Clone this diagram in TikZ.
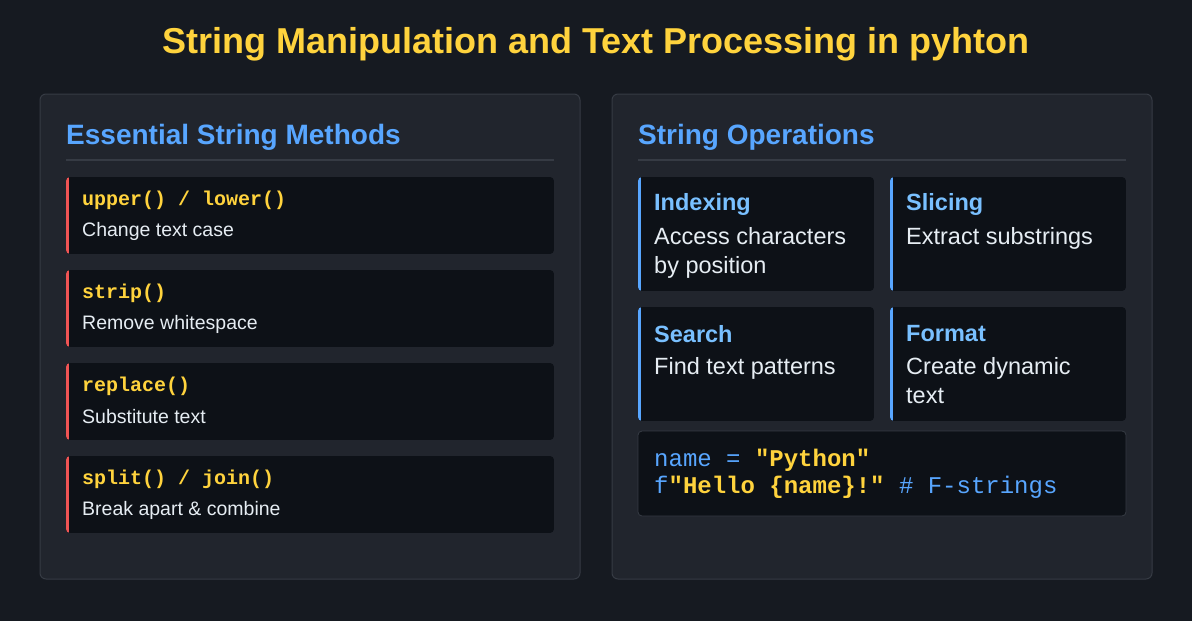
\documentclass[tikz,border=0pt]{standalone}
\usepackage{fontspec}
\setmainfont{Liberation Sans}
\setmonofont{Liberation Mono}
\definecolor{bgdark}{HTML}{161A21}
\definecolor{panelbg}{HTML}{21252D}
\definecolor{panelline}{HTML}{363B44}
\definecolor{cardbg}{HTML}{0D1117}
\definecolor{accred}{HTML}{F05454}
\definecolor{accblue}{HTML}{58A6FF}
\definecolor{titleblue}{HTML}{58A6FF}
\definecolor{cardblue}{HTML}{79C0FF}
\definecolor{codeyel}{HTML}{FFD33D}
\definecolor{txtlight}{HTML}{E6EDF3}
\tikzset{
  panel/.style={fill=panelbg, draw=panelline, line width=1pt, rounded corners=6pt},
  card/.style={fill=cardbg, rounded corners=4pt},
  heading/.style={anchor=west, text=titleblue, font=\fontsize{28}{30}\selectfont\bfseries, inner sep=0pt},
  methname/.style={anchor=west, text=codeyel, font=\fontsize{20}{22}\selectfont\ttfamily\bfseries, inner sep=0pt},
  methtext/.style={anchor=west, text=txtlight, font=\fontsize{19.5}{22}\selectfont, inner sep=0pt},
  opname/.style={anchor=west, text=cardblue, font=\fontsize{23.5}{28}\selectfont\bfseries, inner sep=0pt},
  optext/.style={anchor=north west, text=txtlight, font=\fontsize{23.5}{29}\selectfont, inner sep=0pt, align=left},
}
\begin{document}
\begin{tikzpicture}[x=1pt, y=-1pt]
		\fill[bgdark] (0,0) rectangle (1192,621);
		\useasboundingbox (0,0) rectangle (1192,621);
		\node[text=codeyel, font=\fontsize{36}{38}\selectfont\bfseries] (title) at (596,44) {String Manipulation and Text Processing in pyhton};
		
		% left panel
		\draw[panel] (40,94) rectangle (580,579);
		\node[heading] (lhead) at (66,137) {Essential String Methods};
		\draw[panelline, line width=1.5pt] (66,160) -- (554,160);
		\foreach \y/\m/\t [count=\i] in {177/{upper() / lower()}/Change text case, 270/strip()/Remove whitespace, 363/replace()/Substitute text, 456/{split() / join()}/Break apart \& combine} {
			\begin{scope}
				\clip[rounded corners=4pt] (66,\y) rectangle (554,\y+77);
				\fill[cardbg] (66,\y) rectangle (554,\y+77);
				\fill[accred] (66,\y) rectangle (69,\y+77);
			\end{scope}
			\node[methname] (meth\i) at (82,\y+23) {\m};
			\node[methtext] (desc\i) at (82,\y+54) {\t};
		}
		
		% right panel
		\draw[panel] (612,94) rectangle (1152,579);
		\node[heading] (rhead) at (638,137) {String Operations};
		\draw[panelline, line width=1.5pt] (638,160) -- (1126,160);
		\foreach \x/\y/\n/\t [count=\i] in {638/177/Indexing/Access characters\\by position, 890/177/Slicing/Extract substrings, 638/307/Search/Find text patterns, 890/307/Format/Create dynamic\\text} {
			\begin{scope}
				\clip[rounded corners=4pt] (\x,\y) rectangle (\x+236,\y+114);
				\fill[cardbg] (\x,\y) rectangle (\x+236,\y+114);
				\fill[accblue] (\x,\y) rectangle (\x+3,\y+114);
			\end{scope}
			\node[opname] (op\i) at (\x+16,\y+27) {\n};
			\node[optext] (optxt\i) at (\x+16,\y+50) {\t};
		}
		
		% code sample
		\draw[card, draw=panelline, line width=0.8pt] (638,431) rectangle (1126,516);
		\node[anchor=north west, inner sep=0pt, align=left, font=\fontsize{24}{27}\selectfont\ttfamily] (code) at (654,449)
			{\textcolor{accblue}{name =} \textcolor{codeyel}{\bfseries"Python"}\\
			 \textcolor{accblue}{f}\textcolor{codeyel}{\bfseries"Hello \{name\}!"} \textcolor{accblue}{\# F-strings}};
\end{tikzpicture}
\end{document}
